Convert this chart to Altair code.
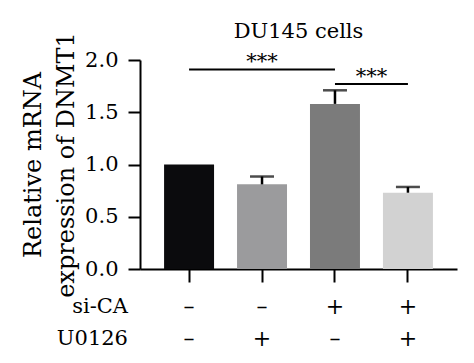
import altair as alt
import pandas as pd

# ---- data ----
si_ca = ["–", "–", "+", "+"]
u0126 = ["–", "+", "–", "+"]
means = [1.00, 0.81, 1.58, 0.73]
upper = [1.00, 0.885, 1.71, 0.785]
colors = ["#0b0b0d", "#9b9b9d", "#7b7b7b", "#d2d2d2"]

sig_start = ["–|–", "+|–"]
sig_end = ["+|–", "+|+"]
sig_y = [1.91, 1.77]
sig_text = ["***", "***"]
sig_text_x = ["–|+", "+|–"]

row_names = ["si-CA", "U0126"]
row_y = [-0.36, -0.67]

keys = [f"{a}|{b}" for a, b in zip(si_ca, u0126)]
df = pd.DataFrame({"key": keys, "mean": means, "upper": upper, "color": colors})
err_df = df[df["upper"] > df["mean"]]
sig_df = pd.DataFrame({"start": sig_start, "end": sig_end, "y": sig_y})
star_df = pd.DataFrame({"x": sig_text_x, "y": sig_y, "t": sig_text})
rows_df = pd.DataFrame({"name": row_names, "y": row_y})

FONT = "DejaVu Serif"

xscale = alt.Scale(domain=keys, paddingInner=0.315, paddingOuter=0.33)
yscale = alt.Scale(domain=[0, 2])

x_enc = alt.X(
    "key:N",
    sort=None,
    scale=xscale,
    axis=alt.Axis(
        title=None,
        labelExpr="split(datum.label, '|')",
        labelAngle=0,
        labelFontSize=22,
        labelLineHeight=32,
        labelPadding=14,
        labelBaseline="top",
        tickSize=13,
        tickWidth=2,
        domainWidth=2,
        domainColor="black",
        tickColor="black",
        labelColor="black",
        labelFont=FONT,
    ),
)

y_enc = alt.Y(
    "mean:Q",
    scale=yscale,
    axis=alt.Axis(
        title=["Relative mRNA", "expression of DNMT1"],
        values=[0, 0.5, 1.0, 1.5, 2.0],
        format=".1f",
        grid=False,
        tickSize=12,
        tickWidth=2,
        domainWidth=2,
        domainColor="black",
        tickColor="black",
        labelColor="black",
        labelFontSize=21,
        labelFont=FONT,
        labelPadding=10,
        titleFont=FONT,
        titleFontSize=24,
        titleFontWeight="normal",
        titleLineHeight=33,
        titleColor="black",
        titlePadding=6,
    ),
)

bars = alt.Chart(df).mark_bar().encode(
    x=x_enc,
    y=y_enc,
    color=alt.Color("color:N", scale=None),
)

err_rule = alt.Chart(err_df).mark_rule(color="black", strokeWidth=2.5).encode(
    x=alt.X("key:N", sort=None, scale=xscale),
    y=alt.Y("mean:Q", scale=yscale),
    y2="upper:Q",
)
err_cap = alt.Chart(err_df).mark_tick(color="black", thickness=2.5, size=24, orient="horizontal").encode(
    x=alt.X("key:N", sort=None, scale=xscale),
    y=alt.Y("upper:Q", scale=yscale),
)

sig_lines = alt.Chart(sig_df).mark_rule(color="black", strokeWidth=2).encode(
    x=alt.X("start:N", sort=None, scale=xscale),
    x2="end:N",
    y=alt.Y("y:Q", scale=yscale),
)

stars1 = alt.Chart(star_df.iloc[[0]]).mark_text(
    font=FONT, fontSize=21, baseline="alphabetic", dy=-1, color="black"
).encode(
    x=alt.X("x:N", sort=None, scale=xscale),
    y=alt.Y("y:Q", scale=yscale),
    text="t:N",
)
stars2 = alt.Chart(star_df.iloc[[1]]).mark_text(
    font=FONT, fontSize=21, baseline="alphabetic", dy=-1, dx=36.5, color="black"
).encode(
    x=alt.X("x:N", sort=None, scale=xscale),
    y=alt.Y("y:Q", scale=yscale),
    text="t:N",
)

row_labels = alt.Chart(rows_df).mark_text(
    font=FONT, fontSize=21, align="right", baseline="middle", color="black"
).encode(
    x=alt.value(-12),
    y=alt.Y("y:Q", scale=yscale),
    text="name:N",
)

chart = (
    alt.layer(bars, err_rule, err_cap, sig_lines, stars1, stars2, row_labels)
    .properties(
        width=317,
        height=209,
        title=alt.TitleParams(
            "DU145 cells", font=FONT, fontSize=21, fontWeight="normal",
            anchor="middle", offset=-10, color="black",
        ),
        autosize=alt.AutoSizeParams(type="none"),
        padding={"left": 132, "top": 52, "right": 9, "bottom": 86},
    )
    .configure_view(stroke=None)
)

chart.save("out.html", embed_options={"renderer": "svg", "actions": False})
